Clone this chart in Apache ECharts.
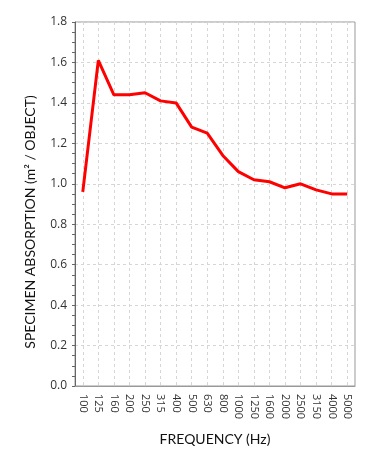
<!DOCTYPE html>
<html><head><meta charset="utf-8">
<script src="https://cdn.jsdelivr.net/npm/echarts@6/dist/echarts.min.js"></script>
<style>html,body{margin:0;padding:0;background:#fff}#c{width:385px;height:470px}</style>
</head><body><div id="c"></div>
<script>
const frequencies = ['100','125','160','200','250','315','400','500','630','800','1000','1250','1600','2000','2500','3150','4000','5000'];
const absorption = [0.96,1.61,1.44,1.44,1.45,1.41,1.40,1.28,1.25,1.14,1.06,1.02,1.01,0.98,1.00,0.97,0.95,0.95];
const yTicks = [0,0.2,0.4,0.6,0.8,1.0,1.2,1.4,1.6,1.8];

const chart = echarts.init(document.getElementById('c'));
chart.setOption({
  animation:false,
  grid:{left:75,right:30,top:22,bottom:84,show:true,borderColor:'#999',borderWidth:1},
  xAxis:{
    type:'category', data:frequencies, boundaryGap:true,
    name:'FREQUENCY (Hz)', nameLocation:'middle', nameGap:46,
    nameTextStyle:{fontFamily:'Lato',fontSize:14,color:'#111'},
    axisLine:{lineStyle:{color:'#999'}},
    axisTick:{alignWithLabel:true,length:4,lineStyle:{color:'#999'}},
    axisLabel:{rotate:-90,fontFamily:'Open Sans',fontSize:11,color:'#333',interval:0,margin:8},
    splitLine:{show:true,alignWithLabel:true,interval:0,lineStyle:{color:'#d6d6d6',type:[3,3]}}
  },
  yAxis:{
    type:'value', min:yTicks[0], max:yTicks[yTicks.length-1], interval:0.2,
    name:'SPECIMEN ABSORPTION (m² / OBJECT)', nameLocation:'middle', nameGap:38,
    nameTextStyle:{fontFamily:'Lato',fontSize:14,color:'#111',padding:[0,36,0,0]},
    axisLine:{show:true,lineStyle:{color:'#666'}},
    axisTick:{show:true,length:3,inside:false,lineStyle:{color:'#666'}},
    minorTick:{show:true,splitNumber:4,length:3,lineStyle:{color:'#666'}},
    axisLabel:{formatter:v=>v.toFixed(1),fontFamily:'Open Sans',fontSize:12,color:'#333',margin:8},
    splitLine:{show:true,lineStyle:{color:'#d6d6d6',type:[3,3]}}
  },
  series:[{type:'line',data:absorption,symbol:'none',lineStyle:{color:'#ff0000',width:3}}]
});
</script></body></html>
